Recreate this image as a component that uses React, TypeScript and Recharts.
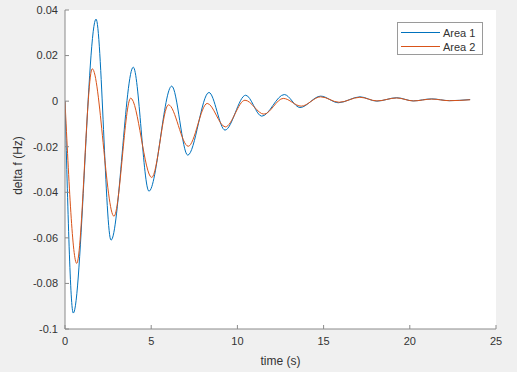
import React from "react";
import {
  LineChart,
  Line,
  XAxis,
  YAxis,
  Legend,
} from "recharts";

// peaks / troughs, seconds vs Hz
const area1Time = [0, 0.48, 1.8, 2.67, 3.96, 4.87, 6.19, 7.12, 8.35, 9.28, 10.48, 11.41, 12.72, 13.63, 14.83, 15.86, 17.11, 18.08, 19.24, 20.2, 21.27, 22.3, 23.5];
const area1Delta = [0, -0.093, 0.036, -0.061, 0.0149, -0.0395, 0.0066, -0.0237, 0.0038, -0.0127, 0.0026, -0.0066, 0.0029, -0.0028, 0.0022, -0.0007, 0.0019, 0.0, 0.0015, 0.0001, 0.001, 0.0002, 0.0007];

const area2Time = [0, 0.68, 1.58, 2.84, 3.81, 5.03, 6.0, 7.15, 8.25, 9.3, 10.44, 11.54, 12.66, 13.7, 14.83, 15.9, 17.1, 18.1, 19.24, 20.2, 21.27, 22.3, 23.5];
const area2Delta = [0, -0.0712, 0.0142, -0.0505, 0.0013, -0.0335, -0.0016, -0.0198, -0.001, -0.0113, 0.0004, -0.0057, 0.0012, -0.0022, 0.0019, -0.0005, 0.0017, 0.0001, 0.0014, 0.0001, 0.0009, 0.0002, 0.0006];

const xTicks = [0, 5, 10, 15, 20, 25];
const yTicks = [-0.1, -0.08, -0.06, -0.04, -0.02, 0, 0.02, 0.04];

const seriesNames = ["Area 1", "Area 2"];
const BLUE = "#0072BD";
const ORANGE = "#D95319";

const area1 = area1Time.map((t, i) => ({ t, v: area1Delta[i] }));
const area2 = area2Time.map((t, i) => ({ t, v: area2Delta[i] }));

const FONT = "'Liberation Sans', Arial, sans-serif";
const AXIS = "#8a8a8a";
const TEXT = "#333333";

const fmtY = (v: number) => String(Number(v.toFixed(2)));

const MatlabLegend = () => (
  <svg width={86} height={33} style={{ display: "block" }}>
    <rect x={0.5} y={0.5} width={85} height={32} fill="#fff" stroke="#9a9a9a" />
    {seriesNames.map((name, i) => (
      <g key={name}>
        <line
          x1={4}
          x2={43}
          y1={10.5 + i * 14}
          y2={10.5 + i * 14}
          stroke={i === 0 ? BLUE : ORANGE}
          strokeWidth={1}
        />
        <text
          x={46}
          y={11 + i * 14}
          dominantBaseline="central"
          fontSize={11}
          fontFamily={FONT}
          fill={TEXT}
        >
          {name}
        </text>
      </g>
    ))}
  </svg>
);

export default function App() {
  return (
    <div
      style={{
        position: "absolute",
        left: 0,
        top: 0,
        width: 517,
        height: 372,
        background: "#f0f0f0",
      }}
    >
      <LineChart
        width={517}
        height={372}
        margin={{ top: 10, right: 21, bottom: 10, left: 10 }}
        style={{ fontFamily: FONT }}
      >
        <rect x={65} y={10} width={431} height={319} fill="#ffffff" />
        <XAxis
          xAxisId="b"
          type="number"
          dataKey="t"
          domain={[0, 25]}
          ticks={xTicks}
          allowDataOverflow
          height={33}
          stroke={AXIS}
          tickSize={-4}
          tickMargin={12}
          tick={{ fill: TEXT, fontSize: 11 }}
          label={(props: any) => {
            const vb = props.viewBox || {};
            return (
              <text
                x={vb.x + vb.width / 2}
                y={vb.y + 36}
                textAnchor="middle"
                fill={TEXT}
                fontSize={12}
                fontFamily={FONT}
              >
                time (s)
              </text>
            );
          }}
        />
        <XAxis
          xAxisId="top"
          orientation="top"
          type="number"
          dataKey="t"
          domain={[0, 25]}
          ticks={xTicks}
          allowDataOverflow
          height={0}
          stroke={AXIS}
          tickSize={-4}
          tickFormatter={() => ""}
        />
        <YAxis
          yAxisId="l"
          type="number"
          domain={[-0.1, 0.04]}
          ticks={yTicks}
          allowDataOverflow
          width={55}
          stroke={AXIS}
          tickSize={-4}
          tickMargin={11}
          tick={{ fill: TEXT, fontSize: 11 }}
          tickFormatter={fmtY}
          label={(props: any) => {
            const vb = props.viewBox || {};
            const cx = vb.x + 8;
            const cy = vb.y + vb.height / 2 - 4;
            return (
              <text
                x={cx}
                y={cy}
                transform={`rotate(-90, ${cx}, ${cy})`}
                textAnchor="middle"
                dominantBaseline="central"
                fill={TEXT}
                fontSize={12}
                fontFamily={FONT}
              >
                delta f (Hz)
              </text>
            );
          }}
        />
        <YAxis
          yAxisId="r"
          orientation="right"
          type="number"
          domain={[-0.1, 0.04]}
          ticks={yTicks}
          allowDataOverflow
          width={0}
          stroke={AXIS}
          tickSize={-4}
          tickFormatter={() => ""}
        />
        <Line
          xAxisId="b"
          yAxisId="l"
          data={area1}
          dataKey="v"
          name={seriesNames[0]}
          type="monotone"
          stroke={BLUE}
          strokeWidth={1}
          dot={false}
          isAnimationActive={false}
        />
        <Line
          xAxisId="b"
          yAxisId="l"
          data={area2}
          dataKey="v"
          name={seriesNames[1]}
          type="monotone"
          stroke={ORANGE}
          strokeWidth={1}
          dot={false}
          isAnimationActive={false}
        />
        <Legend
          layout="vertical"
          align="center"
          verticalAlign="middle"
          content={MatlabLegend}
          wrapperStyle={{ position: "absolute", left: 397, top: 22, width: 86 }}
        />
      </LineChart>
    </div>
  );
}
